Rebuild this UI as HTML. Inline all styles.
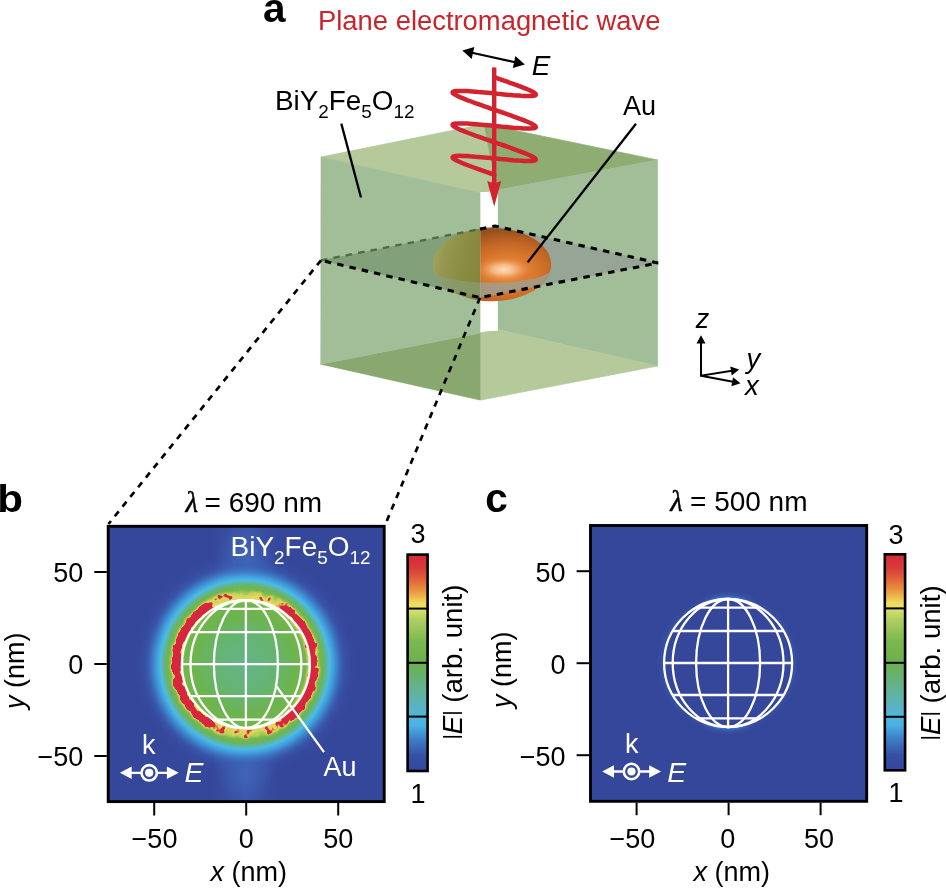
<!DOCTYPE html>
<html lang="en"><head><meta charset="utf-8"><title>Figure</title>
<style>html,body{margin:0;padding:0;background:#fff}svg{display:block}</style></head>
<body>
<svg width="946" height="889" viewBox="0 0 946 889">
<defs>
<linearGradient id="cb" x1="0" y1="1" x2="0" y2="0">
<stop offset="0" stop-color="#34469c"/>
<stop offset="0.07" stop-color="#3550a6"/>
<stop offset="0.15" stop-color="#3f80c8"/>
<stop offset="0.21" stop-color="#49b2e6"/>
<stop offset="0.27" stop-color="#55b4d2"/>
<stop offset="0.38" stop-color="#64b292"/>
<stop offset="0.5" stop-color="#6cb04c"/>
<stop offset="0.6" stop-color="#7cb850"/>
<stop offset="0.7" stop-color="#b0cf62"/>
<stop offset="0.752" stop-color="#e2e26c"/>
<stop offset="0.775" stop-color="#f0dc5e"/>
<stop offset="0.81" stop-color="#edb048"/>
<stop offset="0.85" stop-color="#e6853c"/>
<stop offset="0.895" stop-color="#df5a3a"/>
<stop offset="0.94" stop-color="#d83a39"/>
<stop offset="1" stop-color="#d32a38"/>
</linearGradient>
<radialGradient id="halo" gradientUnits="userSpaceOnUse" cx="245.0" cy="664.6" r="120"><stop offset="0.0000" stop-color="#63b48a"/><stop offset="0.2500" stop-color="#66b472"/><stop offset="0.4167" stop-color="#6cb44e"/><stop offset="0.5083" stop-color="#72b64c"/><stop offset="0.5375" stop-color="#dcd85e"/><stop offset="0.5625" stop-color="#ccd85e"/><stop offset="0.5917" stop-color="#9cca56"/><stop offset="0.6208" stop-color="#74b84c"/><stop offset="0.6542" stop-color="#6ab45a"/><stop offset="0.6800" stop-color="#5eb69c"/><stop offset="0.7050" stop-color="#4abbe6"/><stop offset="0.7333" stop-color="#43a2de"/><stop offset="0.7708" stop-color="#3d7cc6"/><stop offset="0.8208" stop-color="#3a5eb2" stop-opacity="0.6"/><stop offset="0.8833" stop-color="#3850a6" stop-opacity="0.2"/><stop offset="0.9417" stop-color="#364aa0" stop-opacity="0"/><stop offset="1.0000" stop-color="#35479b" stop-opacity="0"/></radialGradient>
<linearGradient id="lobe" gradientUnits="userSpaceOnUse" x1="171.0" y1="0" x2="319.0" y2="0">
<stop offset="0" stop-color="#fff"/>
<stop offset="0.2" stop-color="#fff"/>
<stop offset="0.3" stop-color="#787878"/>
<stop offset="0.4" stop-color="#505050"/>
<stop offset="0.5" stop-color="#3c3c3c"/>
<stop offset="0.6" stop-color="#505050"/>
<stop offset="0.72" stop-color="#787878"/>
<stop offset="0.83" stop-color="#fff"/>
<stop offset="1" stop-color="#fff"/>
</linearGradient>
<mask id="lobemask" maskUnits="userSpaceOnUse" x="100" y="520" width="300" height="300">
<rect x="100" y="520" width="300" height="300" fill="url(#lobe)"/>
</mask>
<filter id="speck" filterUnits="userSpaceOnUse" x="100" y="520" width="300" height="300" color-interpolation-filters="sRGB">
<feGaussianBlur in="SourceAlpha" stdDeviation="1.6" result="sa"/>
<feTurbulence type="fractalNoise" baseFrequency="0.14" numOctaves="2" seed="7" result="t"/>
<feColorMatrix in="t" type="matrix" values="0 0 0 0 0  0 0 0 0 0  0 0 0 0 0  1.3 0 0 0 -0.15" result="n"/>
<feComposite in="sa" in2="n" operator="arithmetic" k1="0" k2="1" k3="1.15" k4="-0.575" result="m0"/>
<feComponentTransfer in="sa" result="gate"><feFuncA type="linear" slope="14" intercept="-0.6"/></feComponentTransfer>
<feComposite in="m0" in2="gate" operator="in" result="m"/>
<feComponentTransfer in="m" result="thr"><feFuncA type="linear" slope="7" intercept="-3"/></feComponentTransfer>
<feComponentTransfer in="m" result="thr2"><feFuncA type="linear" slope="3.2" intercept="-0.25"/></feComponentTransfer>
<feFlood flood-color="#e9d85c" result="yel"/>
<feComposite in="yel" in2="thr2" operator="in" result="yring"/>
<feGaussianBlur in="yring" stdDeviation="0.9" result="yringb"/>
<feFlood flood-color="#d9263f" result="red"/>
<feComposite in="red" in2="thr" operator="in" result="rring"/>
<feGaussianBlur in="rring" stdDeviation="0.5" result="rringb"/>
<feMerge><feMergeNode in="yringb"/><feMergeNode in="rringb"/></feMerge>
</filter>
<linearGradient id="streak" gradientUnits="userSpaceOnUse" x1="211.9" y1="0" x2="279.9" y2="0">
<stop offset="0" stop-color="#4570c4" stop-opacity="0"/>
<stop offset="0.5" stop-color="#4570c4" stop-opacity="0.3"/>
<stop offset="1" stop-color="#4570c4" stop-opacity="0"/>
</linearGradient>
<radialGradient id="gold" gradientUnits="userSpaceOnUse" cx="508" cy="272" r="64" gradientTransform="translate(508 272) scale(1 0.66) translate(-508 -272)">
<stop offset="0" stop-color="#e88a3c"/>
<stop offset="0.42" stop-color="#da782e"/>
<stop offset="0.68" stop-color="#c46826"/>
<stop offset="0.88" stop-color="#aa5a20"/>
<stop offset="1" stop-color="#96501c"/>
</radialGradient>
<radialGradient id="spec" gradientUnits="userSpaceOnUse" cx="503.5" cy="269.5" r="28" gradientTransform="translate(503.5 269.5) scale(1 0.45) translate(-503.5 -269.5)">
<stop offset="0" stop-color="#ffe2c0" stop-opacity="0.98"/>
<stop offset="0.4" stop-color="#f9c090" stop-opacity="0.85"/>
<stop offset="1" stop-color="#e8873a" stop-opacity="0"/>
</radialGradient>
<linearGradient id="olive" gradientUnits="userSpaceOnUse" x1="432" y1="250" x2="482" y2="262">
<stop offset="0" stop-color="#a6a860"/><stop offset="0.25" stop-color="#96984e"/><stop offset="0.7" stop-color="#8a8a42"/><stop offset="1" stop-color="#86863e"/>
</linearGradient>
<radialGradient id="blob">
<stop offset="0" stop-color="#4a86d2" stop-opacity="0.75"/><stop offset="0.5" stop-color="#4678c8" stop-opacity="0.4"/><stop offset="1" stop-color="#4070c0" stop-opacity="0"/>
</radialGradient>
<clipPath id="clipb"><rect x="108.2" y="526.3" width="276" height="275.3"/></clipPath>
<clipPath id="clipc"><rect x="590.5" y="525.5" width="276.2" height="275.8"/></clipPath>
<clipPath id="ell"><ellipse cx="492" cy="264.6" rx="59.2" ry="36.6"/></clipPath>
<clipPath id="leftclip"><rect x="300" y="100" width="180" height="320"/></clipPath>
<radialGradient id="cglow" gradientUnits="userSpaceOnUse" cx="728.1" cy="663" r="72">
<stop offset="0.86" stop-color="#3f78c4" stop-opacity="0"/>
<stop offset="0.905" stop-color="#46a0dc" stop-opacity="0.55"/>
<stop offset="0.95" stop-color="#3f78c4" stop-opacity="0.25"/>
<stop offset="1" stop-color="#3f78c4" stop-opacity="0"/>
</radialGradient>
<linearGradient id="cglowm" gradientUnits="userSpaceOnUse" x1="658.1" y1="0" x2="798.1" y2="0">
<stop offset="0" stop-color="#555"/><stop offset="0.3" stop-color="#222"/><stop offset="0.42" stop-color="#fff"/><stop offset="0.58" stop-color="#fff"/><stop offset="0.7" stop-color="#222"/><stop offset="1" stop-color="#555"/>
</linearGradient>
<mask id="cmask" maskUnits="userSpaceOnUse" x="590" y="524" width="280" height="280"><rect x="590" y="524" width="280" height="280" fill="url(#cglowm)"/></mask>
</defs>
<rect width="946" height="889" fill="#fff"/>
<polygon points="321,157 484,124 497,190 480,193" fill="#b5c99a" stroke="#b5c99a" stroke-width="0.7" stroke-linejoin="round"/>
<polygon points="484,124 657.6,160 498,190 497,190" fill="#8fad72" stroke="#8fad72" stroke-width="0.7" stroke-linejoin="round"/>
<polygon points="498,190 657.6,160 657.6,366 498,329.5" fill="#a2be99" stroke="#a2be99" stroke-width="0.7" stroke-linejoin="round"/>
<polygon points="480,333 498,329.5 657.6,366 481,400 480,400" fill="#b5c99a" stroke="#b5c99a" stroke-width="0.7" stroke-linejoin="round"/>
<polygon points="320.8,364.2 480,333 480,400" fill="#88a86f" stroke="#88a86f" stroke-width="0.7" stroke-linejoin="round"/>
<rect x="480.4" y="192" width="17.2" height="139" fill="#fff"/>
<polygon points="321,260.3 495,226 658.5,263 480,297.7" fill="#96a596"/>
<ellipse cx="492" cy="264.6" rx="59.2" ry="36.6" fill="url(#gold)"/>
<ellipse cx="503.5" cy="269.5" rx="28" ry="12.6" fill="url(#spec)"/>
<g clip-path="url(#ell)"><path d="M432,268 A60,15 0 0 0 552,268 L552,263 L658,263 L480,297.7 L321,260.3 Z" fill="#98a398" fill-opacity="0.76"/></g>
<polygon points="321,157 480,193 480,333 320.8,364.2" fill="#a2be99" stroke="#a2be99" stroke-width="0.7" stroke-linejoin="round"/>
<g clip-path="url(#leftclip)">
<polygon points="321,260.3 495,226 658.5,263 480,297.7" fill="#82a07a"/>
<ellipse cx="492" cy="264.6" rx="59.2" ry="36.6" fill="url(#olive)"/>
<g clip-path="url(#ell)"><path d="M432,268 A60,15 0 0 0 552,268 L552,263 L658,263 L480,297.7 L321,260.3 Z" fill="#86a17e" fill-opacity="0.62"/></g>
</g>
<path d="M321,260.3 L480,229" fill="none" stroke="#4a6c46" stroke-width="2.3" stroke-dasharray="6.5 6.1"/>
<g fill="none" stroke="#000" stroke-width="3.1" stroke-dasharray="6.5 6.1">
<path d="M480,229 L495,226 L658,263 L480,297.7 L321,260.3"/>
</g>
<g fill="none" stroke="#000" stroke-width="2.7" stroke-dasharray="6.3 6.1">
<path d="M321,260.3 L108.5,524"/>
<path d="M480,297.7 L385.5,524"/>
</g>
<line x1="341.3" y1="123.6" x2="361" y2="197.5" stroke="#000" stroke-width="2.3"/>
<line x1="636" y1="123.8" x2="527.6" y2="262.4" stroke="#000" stroke-width="2.3"/>
<path d="M494.2,77.2 L497.5,78.3 L500.7,79.5 L503.9,80.6 L507.1,81.7 L510.1,82.8 L513.1,83.8 L515.9,84.8 L518.7,85.9 L521.2,86.8 L523.6,87.8 L525.8,88.7 L527.9,89.5 L529.7,90.3 L531.3,91.1 L532.6,91.8 L533.8,92.4 L534.7,93 L535.3,93.6 L535.7,94.1 L535.8,94.5 L535.7,94.9 L535.3,95.2 L534.7,95.5 L533.8,95.7 L532.6,95.9 L531.3,96 L529.7,96 L527.9,96 L525.8,96 L523.6,95.9 L521.2,95.8 L518.7,95.6 L515.9,95.4 L513.1,95.2 L510.1,94.9 L507.1,94.7 L503.9,94.4 L500.7,94.1 L497.5,93.8 L494.2,93.4 L490.9,93.1 L487.7,92.8 L484.5,92.5 L481.3,92.2 L478.3,92 L475.3,91.7 L472.5,91.5 L469.7,91.3 L467.2,91.1 L464.8,91 L462.6,90.9 L460.5,90.9 L458.7,90.9 L457.1,90.9 L455.8,91 L454.6,91.2 L453.7,91.4 L453.1,91.7 L452.7,92 L452.6,92.4 L452.7,92.8 L453.1,93.3 L453.7,93.8 L454.6,94.4 L455.8,95.1 L457.1,95.8 L458.7,96.6 L460.5,97.4 L462.6,98.2 L464.8,99.1 L467.2,100.1 L469.7,101 L472.5,102 L475.3,103.1 L478.3,104.1 L481.3,105.2 L484.5,106.3 L487.7,107.4 L490.9,108.6 L494.2,109.7 L497.5,110.8 L500.7,111.9 L503.9,113 L507.1,114.2 L510.1,115.2 L513.1,116.3 L515.9,117.3 L518.7,118.3 L521.2,119.3 L523.6,120.2 L525.8,121.1 L527.9,122 L529.7,122.8 L531.3,123.6 L532.6,124.3 L533.8,124.9 L534.7,125.5 L535.3,126.1 L535.7,126.6 L535.8,127 L535.7,127.4 L535.3,127.7 L534.7,128 L533.8,128.2 L532.6,128.3 L531.3,128.4 L529.7,128.5 L527.9,128.5 L525.8,128.5 L523.6,128.4 L521.2,128.2 L518.7,128.1 L515.9,127.9 L513.1,127.7 L510.1,127.4 L507.1,127.1 L503.9,126.9 L500.7,126.6 L497.5,126.2 L494.2,125.9 L490.9,125.6 L487.7,125.3 L484.5,125 L481.3,124.7 L478.3,124.4 L475.3,124.2 L472.5,124 L469.7,123.8 L467.2,123.6 L464.8,123.5 L462.6,123.4 L460.5,123.4 L458.7,123.4 L457.1,123.4 L455.8,123.5 L454.6,123.7 L453.7,123.9 L453.1,124.1 L452.7,124.5 L452.6,124.8 L452.7,125.3 L453.1,125.8 L453.7,126.3 L454.6,126.9 L455.8,127.6 L457.1,128.3 L458.7,129 L460.5,129.9 L462.6,130.7 L464.8,131.6 L467.2,132.5 L469.7,133.5 L472.5,134.5 L475.3,135.6 L478.3,136.6 L481.3,137.7 L484.5,138.8 L487.7,139.9 L490.9,141 L494.2,142.2 L497.5,143.3 L500.7,144.4 L503.9,145.5 L507.1,146.6 L510.1,147.7 L513.1,148.8 L515.9,149.8 L518.7,150.8 L521.2,151.8 L523.6,152.7 L525.8,153.6 L527.9,154.5 L529.7,155.3 L531.3,156.1 L532.6,156.8 L533.8,157.4 L534.7,158 L535.3,158.6 L535.7,159.1 L535.8,159.5 L535.7,159.9 L535.3,160.2 L534.7,160.5 L533.8,160.7 L532.6,160.8 L531.3,160.9 L529.7,161 L527.9,161 L525.8,160.9 L523.6,160.9 L521.2,160.7 L518.7,160.6 L515.9,160.4 L513.1,160.2 L510.1,159.9 L507.1,159.6 L503.9,159.3 L500.7,159 L497.5,158.7 L494.2,158.4 L490.9,158.1 L487.7,157.8 L484.5,157.5 L481.3,157.2 L478.3,156.9 L475.3,156.7 L472.5,156.4 L469.7,156.3 L467.2,156.1 L464.8,156 L462.6,155.9 L460.5,155.8 L458.7,155.8 L457.1,155.9 L455.8,156 L454.6,156.2 L453.7,156.4 L453.1,156.6 L452.7,157 L452.6,157.3 L452.7,157.8 L453.1,158.3 L453.7,158.8 L454.6,159.4 L455.8,160.1 L457.1,160.8 L458.7,161.5 L460.5,162.3 L462.6,163.2 L464.8,164.1 L467.2,165 L469.7,166 L472.5,167 L475.3,168 L478.3,169.1 L481.3,170.2 L484.5,171.3 L487.7,172.4 L490.9,173.5 L494.2,174.7" fill="none" stroke="#d3232f" stroke-width="4.5" stroke-linejoin="round" stroke-linecap="round"/>
<line x1="494.2" y1="67.4" x2="494.2" y2="186" stroke="#d3232f" stroke-width="4.4"/>
<path d="M494.2,206.5 L487.2,181 Q494.2,184.5 501.2,181 Z" fill="#d3232f"/>
<line x1="472" y1="52.7" x2="515" y2="62.2" stroke="#000" stroke-width="2.1"/>
<path d="M462.3,50.5 L474.3,46.9 L471.7,58.9 Z" fill="#000"/>
<path d="M524.8,64.4 L512.8,68 L515.4,56 Z" fill="#000"/>
<g stroke="#000" stroke-width="2" fill="none"><path d="M701,341 V375.7 L732,370.7 M701,375.7 L733,381.8"/></g>
<path d="M701,335.3 L705.5,343.6 H696.5 Z" fill="#000"/>
<path d="M739.2,369.6 L731.7,375.4 L730.3,366.4 Z" fill="#000"/>
<path d="M740.5,383.2 L731.4,386.2 L733,377.2 Z" fill="#000"/>
<g font-family="'Liberation Sans', sans-serif">
<text x="262.9" y="21.5" font-size="40.5" font-weight="bold">a</text>
<text transform="translate(-2.7,512.2) scale(1.1,1)" font-size="38.3" font-weight="bold">b</text>
<text x="485.3" y="512" font-size="40.5" font-weight="bold">c</text>
<text x="318" y="29.8" font-size="27" fill="#c9252c" textLength="342.5" lengthAdjust="spacingAndGlyphs">Plane electromagnetic wave</text>
<text x="531.8" y="75" font-size="27.8" font-style="italic">E</text>
<text x="275" y="110.4" font-size="27" textLength="139.5" lengthAdjust="spacingAndGlyphs">BiY<tspan font-size="18.3" dy="7.8">2</tspan><tspan dy="-7.8">Fe</tspan><tspan font-size="18.3" dy="7.8">5</tspan><tspan dy="-7.8">O</tspan><tspan font-size="18.3" dy="7.8">12</tspan></text>
<text x="623" y="114.9" font-size="27">Au</text>
<text x="695.8" y="327.8" font-size="27" font-style="italic">z</text>
<text x="746.4" y="368" font-size="27.5" font-style="italic">y</text>
<text x="745" y="394.6" font-size="27.5" font-style="italic">x</text>
</g>
<g clip-path="url(#clipb)">
<rect x="107" y="524" width="280" height="280" fill="#35479b"/>
<rect x="211.9" y="524" width="68" height="280" fill="url(#streak)"/>
<ellipse cx="245.0" cy="748.6" rx="33" ry="62" fill="url(#blob)"/>
<ellipse cx="245.0" cy="580.6" rx="33" ry="62" fill="url(#blob)"/>
<circle cx="245.0" cy="664.6" r="120" fill="url(#halo)"/>
<g filter="url(#speck)"><g mask="url(#lobemask)"><circle cx="245.0" cy="664.6" r="68.8" fill="none" stroke="#f00" stroke-width="8.6"/></g></g>
</g>
<g fill="none" stroke="#fff" stroke-width="2.3"><circle cx="245.9" cy="664.2" r="64"/><ellipse cx="245.9" cy="664.2" rx="32" ry="64"/><ellipse cx="245.9" cy="664.2" rx="55.4" ry="64"/><line x1="245.9" y1="600.2" x2="245.9" y2="728.2"/><line x1="213.9" y1="608.8" x2="277.9" y2="608.8"/><line x1="190.5" y1="632.2" x2="301.3" y2="632.2"/><line x1="181.9" y1="664.2" x2="309.9" y2="664.2"/><line x1="190.5" y1="696.2" x2="301.3" y2="696.2"/><line x1="213.9" y1="719.6" x2="277.9" y2="719.6"/></g>
<rect x="108.2" y="526.3" width="276" height="275.3" fill="none" stroke="#000" stroke-width="2.9"/>
<g stroke="#000" stroke-width="2"><line x1="94.3" y1="756" x2="106.8" y2="756"/><line x1="154.2" y1="803" x2="154.2" y2="815.5"/><line x1="94.3" y1="664" x2="106.8" y2="664"/><line x1="246.2" y1="803" x2="246.2" y2="815.5"/><line x1="94.3" y1="572" x2="106.8" y2="572"/><line x1="338.2" y1="803" x2="338.2" y2="815.5"/></g><g font-family="'Liberation Sans', sans-serif" font-size="27" fill="#000"><text x="83.3" y="582.4" text-anchor="end">50</text><text x="83.3" y="674.4" text-anchor="end">0</text><text x="83.3" y="766.4" text-anchor="end">−50</text><text x="154.5" y="848" text-anchor="middle">−50</text><text x="246.2" y="848" text-anchor="middle">0</text><text x="338.2" y="848" text-anchor="middle">50</text></g>
<rect x="407.6" y="554.6" width="20" height="216.4" fill="url(#cb)" stroke="#000" stroke-width="2.6"/><g stroke="#000" stroke-width="2"><line x1="407.3" y1="608.6" x2="427.9" y2="608.6"/><line x1="407.3" y1="662.8" x2="427.9" y2="662.8"/><line x1="407.3" y1="716.6" x2="427.9" y2="716.6"/></g>
<g stroke="#fff" fill="#fff"><line x1="128.9" y1="772.8" x2="169.7" y2="772.8" stroke-width="2.3"/><path d="M119.9,772.8 l11.8,-6.3 v12.6 z" stroke="none"/><path d="M178.7,772.8 l-11.8,-6.3 v12.6 z" stroke="none"/></g><circle cx="149.2" cy="772.8" r="7.7" fill="#35479b" stroke="#fff" stroke-width="2.6"/><circle cx="149.2" cy="772.8" r="4.1" fill="#fff"/>
<line x1="275.8" y1="685.3" x2="324" y2="752.2" stroke="#fff" stroke-width="2.3"/>
<g font-family="'Liberation Sans', sans-serif" font-size="27">
<text x="185.4" y="512.3"><tspan font-family="'Liberation Serif', 'DejaVu Serif', serif" font-style="italic" font-size="29" stroke="#000" stroke-width="0.45">λ</tspan></text><text x="204.6" y="512.3" textLength="117.5" lengthAdjust="spacingAndGlyphs">= 690 nm</text>
<text x="230.6" y="555.8" fill="#fff" textLength="140" lengthAdjust="spacingAndGlyphs">BiY<tspan font-size="18.3" dy="7.8">2</tspan><tspan dy="-7.8">Fe</tspan><tspan font-size="18.3" dy="7.8">5</tspan><tspan dy="-7.8">O</tspan><tspan font-size="18.3" dy="7.8">12</tspan></text>
<text x="323.5" y="775.5" fill="#fff">Au</text>
<text x="141.9" y="753.5" fill="#fff">k</text>
<text x="184.6" y="782.3" fill="#fff" font-style="italic" font-size="28.3">E</text>
<text x="410.5" y="543">3</text>
<text x="410.5" y="803">1</text>
<text transform="translate(23.5,709) rotate(-90)"><tspan font-style="italic">y</tspan> (nm)</text>
<text x="210.5" y="881.3"><tspan font-style="italic">x</tspan> (nm)</text>
<text transform="translate(462.4,739.6) rotate(-90)" textLength="155" lengthAdjust="spacingAndGlyphs"><tspan font-size="20.5" dy="-4.2">|</tspan><tspan font-style="italic" dy="4.2">E</tspan><tspan font-size="20.5" dy="-4.2">|</tspan><tspan dy="4.2"> (arb. unit)</tspan></text>
</g>
<g clip-path="url(#clipc)">
<rect x="589" y="524" width="280" height="280" fill="#35479b"/>
<g mask="url(#cmask)"><circle cx="728.1" cy="663" r="72" fill="url(#cglow)"/></g>
</g>
<g fill="none" stroke="#fff" stroke-width="2.3"><circle cx="728.1" cy="663" r="64"/><ellipse cx="728.1" cy="663" rx="32" ry="64"/><ellipse cx="728.1" cy="663" rx="55.4" ry="64"/><line x1="728.1" y1="599" x2="728.1" y2="727"/><line x1="696.1" y1="607.6" x2="760.1" y2="607.6"/><line x1="672.7" y1="631" x2="783.5" y2="631"/><line x1="664.1" y1="663" x2="792.1" y2="663"/><line x1="672.7" y1="695" x2="783.5" y2="695"/><line x1="696.1" y1="718.4" x2="760.1" y2="718.4"/></g>
<rect x="590.5" y="525.5" width="276.2" height="275.8" fill="none" stroke="#000" stroke-width="2.9"/>
<g stroke="#000" stroke-width="2"><line x1="576.6" y1="755.2" x2="589.1" y2="755.2"/><line x1="636.6" y1="802.7" x2="636.6" y2="815.2"/><line x1="576.6" y1="663.2" x2="589.1" y2="663.2"/><line x1="728.6" y1="802.7" x2="728.6" y2="815.2"/><line x1="576.6" y1="571.2" x2="589.1" y2="571.2"/><line x1="820.6" y1="802.7" x2="820.6" y2="815.2"/></g><g font-family="'Liberation Sans', sans-serif" font-size="27" fill="#000"><text x="565.6" y="581.6" text-anchor="end">50</text><text x="565.6" y="673.6" text-anchor="end">0</text><text x="565.6" y="765.6" text-anchor="end">−50</text><text x="632.4" y="847.7" text-anchor="middle">−50</text><text x="727.8" y="847.7" text-anchor="middle">0</text><text x="819" y="847.7" text-anchor="middle">50</text></g>
<rect x="884.8" y="554.3" width="20.3" height="216" fill="url(#cb)" stroke="#000" stroke-width="2.6"/><g stroke="#000" stroke-width="2"><line x1="884.5" y1="608.4" x2="905.4" y2="608.4"/><line x1="884.5" y1="662.8" x2="905.4" y2="662.8"/><line x1="884.5" y1="716.8" x2="905.4" y2="716.8"/></g>
<g stroke="#fff" fill="#fff"><line x1="611.2" y1="771.5" x2="652" y2="771.5" stroke-width="2.3"/><path d="M602.2,771.5 l11.8,-6.3 v12.6 z" stroke="none"/><path d="M661,771.5 l-11.8,-6.3 v12.6 z" stroke="none"/></g><circle cx="631.5" cy="771.5" r="7.7" fill="#35479b" stroke="#fff" stroke-width="2.6"/><circle cx="631.5" cy="771.5" r="4.1" fill="#fff"/>
<g font-family="'Liberation Sans', sans-serif" font-size="27">
<text x="670.2" y="510.8"><tspan font-family="'Liberation Serif', 'DejaVu Serif', serif" font-style="italic" font-size="29" stroke="#000" stroke-width="0.45">λ</tspan></text><text x="690" y="510.8" textLength="117.5" lengthAdjust="spacingAndGlyphs">= 500 nm</text>
<text x="625" y="752.7" fill="#fff">k</text>
<text x="667.2" y="781.6" fill="#fff" font-style="italic" font-size="28.3">E</text>
<text x="888.5" y="543.6">3</text>
<text x="888.5" y="802">1</text>
<text transform="translate(510.8,707.9) rotate(-90)"><tspan font-style="italic">y</tspan> (nm)</text>
<text x="693.5" y="881.3"><tspan font-style="italic">x</tspan> (nm)</text>
<text transform="translate(940,740.4) rotate(-90)" textLength="155" lengthAdjust="spacingAndGlyphs"><tspan font-size="20.5" dy="-4.2">|</tspan><tspan font-style="italic" dy="4.2">E</tspan><tspan font-size="20.5" dy="-4.2">|</tspan><tspan dy="4.2"> (arb. unit)</tspan></text>
</g>
</svg>
</body></html>
